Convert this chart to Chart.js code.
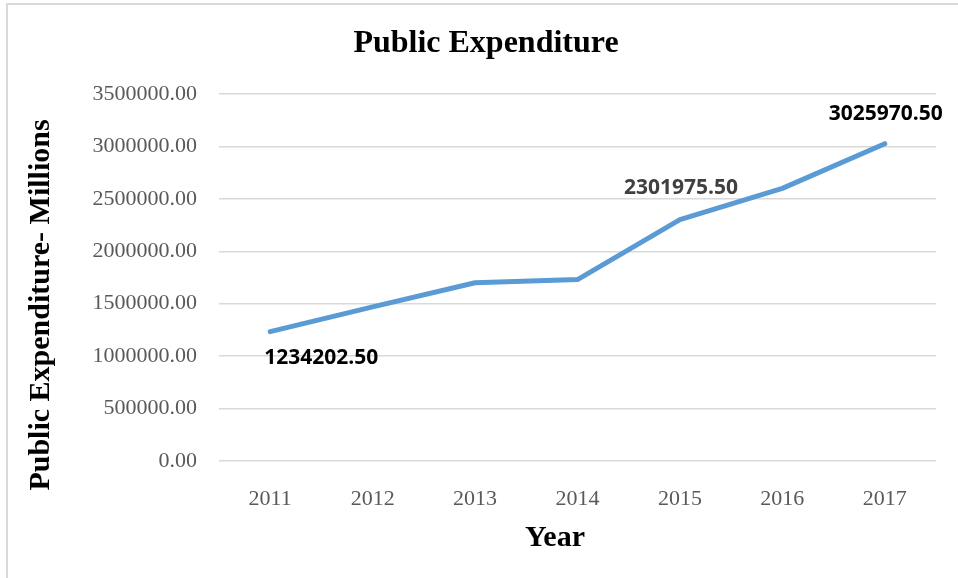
<!DOCTYPE html>
<html>
<head>
<meta charset="utf-8">
<script src="https://cdn.jsdelivr.net/npm/chart.js@4/dist/chart.umd.min.js"></script>
<style>
    html, body { margin: 0; padding: 0; background: #fff; }
    #wrap { position: relative; width: 958px; height: 578px; }
    #frame {
        position: absolute; left: 6px; top: 3px; right: 0; bottom: 0;
        border-top: 2px solid #d9d9d9; border-left: 2px solid #d9d9d9;
        pointer-events: none;
    }
    #expChart { position: absolute; left: 0; top: 0; }
</style>
</head>
<body>
<div id="wrap">
    <canvas id="expChart" width="958" height="578"></canvas>
    <div id="frame"></div>
</div>
<script>
const years = ['2011', '2012', '2013', '2014', '2015', '2016', '2017'];
const expenditure = [1234202.50, 1470000, 1700000, 1730000, 2301975.50, 2600000, 3025970.50];
const labelledPoints = [0, 4, 6];
const yTicks = { min: 0, max: 3500000, step: 500000 };

const chartTitle = 'Public Expenditure';
const xTitle = 'Year';
const yTitle = 'Public Expenditure- Millions';

const serif = '"Liberation Serif", "Times New Roman", serif';

// titles are placed relative to the canvas, value labels relative to their points
const titlesPlugin = {
    id: 'titles',
    afterDraw(chart) {
        const ctx = chart.ctx;
        ctx.save();
        ctx.fillStyle = '#000';
        ctx.textAlign = 'center';
        ctx.textBaseline = 'middle';
        ctx.font = 'bold 32px ' + serif;
        ctx.fillText(chartTitle, 486, 44);
        ctx.font = 'bold 30px ' + serif;
        ctx.fillText(xTitle, 555, 538);
        ctx.translate(41, 305);
        ctx.rotate(-Math.PI / 2);
        ctx.fillText(yTitle, 0, 0);
        ctx.restore();
    }
};

const valueLabelsPlugin = {
    id: 'valueLabels',
    afterDatasetsDraw(chart, args, opts) {
        const ctx = chart.ctx;
        const meta = chart.getDatasetMeta(0);
        ctx.save();
        ctx.textAlign = 'center';
        ctx.textBaseline = 'middle';
        ctx.font = 'bold 21px "Open Sans", "Liberation Sans", sans-serif';
        labelledPoints.forEach(i => {
            const pt = meta.data[i];
            const st = opts.styles[i];
            ctx.fillStyle = st.color;
            ctx.fillText(expenditure[i].toFixed(2), pt.x + st.dx, pt.y + st.dy);
        });
        ctx.restore();
    }
};

const tickFont = { family: serif, size: 22 };

new Chart(document.getElementById('expChart'), {
    type: 'line',
    data: {
        labels: years,
        datasets: [{
            data: expenditure,
            borderColor: '#5b9bd5',
            borderWidth: 5,
            borderCapStyle: 'round',
            borderJoinStyle: 'round',
            pointRadius: 0,
            tension: 0,
            fill: false
        }]
    },
    options: {
        responsive: false,
        animation: false,
        layout: { padding: { top: 94, right: 22, bottom: 0, left: 0 } },
        plugins: {
            legend: { display: false },
            title: { display: false },
            tooltip: { enabled: false },
            valueLabels: {
                styles: {
                    0: { dx: 51, dy: 26, color: '#000' },
                    4: { dx: 1, dy: -32, color: '#404040' },
                    6: { dx: 1, dy: -30, color: '#000' }
                }
            }
        },
        scales: {
            x: {
                offset: true,
                grid: { display: false },
                border: { display: false },
                ticks: { color: '#595959', font: tickFont, padding: 17, maxRotation: 0 },
                afterFit(scale) { scale.height = 117; }
            },
            y: {
                min: yTicks.min,
                max: yTicks.max,
                grid: { color: '#d9d9d9', lineWidth: 1.5, drawTicks: false },
                border: { display: false },
                ticks: {
                    stepSize: yTicks.step,
                    color: '#595959',
                    font: tickFont,
                    padding: 22,
                    callback: v => v.toFixed(2)
                },
                afterFit(scale) { scale.width = 219; }
            }
        }
    },
    plugins: [titlesPlugin, valueLabelsPlugin]
});
</script>
</body>
</html>
